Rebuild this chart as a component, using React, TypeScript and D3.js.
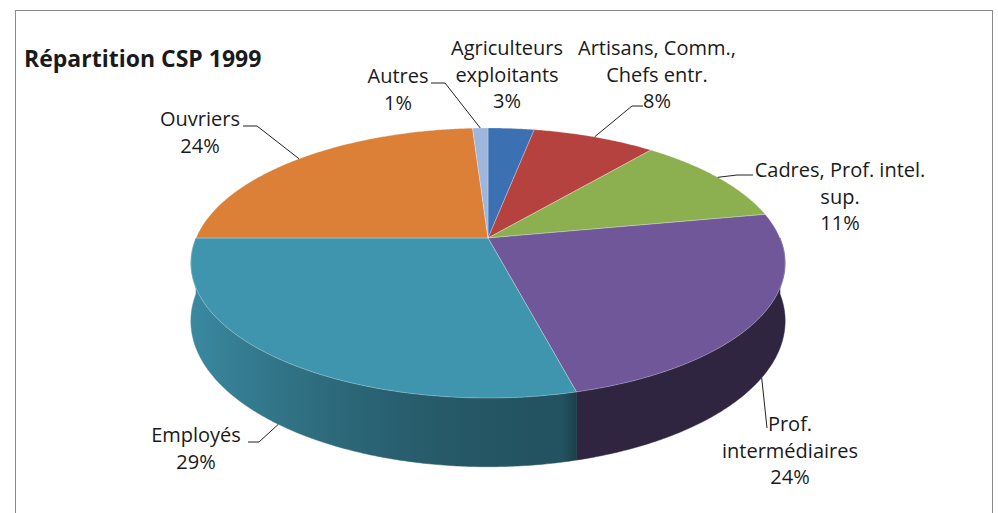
import React from 'react';
import * as d3 from 'd3';

const title = 'Répartition CSP 1999';
const categories = [
  'Agriculteurs exploitants',
  'Artisans, Comm., Chefs entr.',
  'Cadres, Prof. intel. sup.',
  'Prof. intermédiaires',
  'Employés',
  'Ouvriers',
  'Autres',
];
const values = [3, 8, 11, 24, 29, 24, 1];
const labelLines = [
  ['Agriculteurs', 'exploitants'],
  ['Artisans, Comm.,', 'Chefs entr.'],
  ['Cadres, Prof. intel.', 'sup.'],
  ['Prof.', 'intermédiaires'],
  ['Employés'],
  ['Ouvriers'],
  ['Autres'],
];
const colors = ['#3B70B2', '#B5423F', '#8CB050', '#70579A', '#3F95AE', '#DC8038', '#9EB5DC'];

// layout of labels: centre x, first baseline, leader tail points (label side)
const labelLayout: { cx: number; y0: number; tail: [number, number][] | null }[] = [
  { cx: 507, y0: 55, tail: null },
  { cx: 657, y0: 55, tail: [[643, 106], [632, 106]] },
  { cx: 840, y0: 177, tail: [[753, 175], [737, 175]] },
  { cx: 790, y0: 431, tail: [[767, 428]] },
  { cx: 196, y0: 442, tail: [[248, 442], [259, 442]] },
  { cx: 200, y0: 126, tail: [[243, 126], [257, 126]] },
  { cx: 398, y0: 83, tail: [[431, 83], [445, 83]] },
];

const W = 998;
const Hh = 513;
const CX = 488, CY = 238, SX = 292, SY = 130.4, K = 0.185, DEPTH = 56;
const LINE_H = 26.5;

function proj(a: number, z = 0): [number, number] {
  const x = Math.sin(a);
  const y = -Math.cos(a);
  const w = 1 - K * y;
  return [CX + (SX * x) / w, CY + (SY * y + z * DEPTH) / w];
}

function arcPts(a0: number, a1: number, z = 0): [number, number][] {
  const n = Math.max(2, Math.ceil((a1 - a0) / (Math.PI / 360)) + 1);
  const pts: [number, number][] = [];
  for (let i = 0; i < n; i++) pts.push(proj(a0 + ((a1 - a0) * i) / (n - 1), z));
  return pts;
}

function shade(nx: number) {
  if (nx > 0.3) return 0.42;
  return 0.577 - 0.154 * nx + 0.189 * nx * nx;
}

export default function App() {
  const total = d3.sum(values);
  const pie = d3.pie<number>().sort(null).value((d) => d).startAngle(0).endAngle(2 * Math.PI);
  const arcs = pie(values);
  const line = d3.line<[number, number]>().x((d) => d[0]).y((d) => d[1]);
  const font = "'Open Sans', sans-serif";

  const sides: JSX.Element[] = [];
  const grads: JSX.Element[] = [];
  arcs.forEach((a, i) => {
    const s = Math.max(a.startAngle, Math.PI / 2);
    const e = Math.min(a.endAngle, (3 * Math.PI) / 2);
    if (e <= s) return;
    const top = arcPts(s, e, 0);
    const bot = arcPts(s, e, 1).reverse();
    const d = line([...top, ...bot]) + 'Z';
    const base = d3.rgb(colors[i]);
    const stops = d3.range(0, 1.0001, 0.025).map((t) => {
      const f = shade(2 * t - 1);
      const c = d3.rgb(base.r * f, base.g * f, base.b * f);
      return <stop key={t} offset={t} stopColor={c.formatHex()} />;
    });
    grads.push(
      <linearGradient key={i} id={`side-${i}`} gradientUnits="userSpaceOnUse" x1={CX - 297} x2={CX + 297} y1={0} y2={0}>
        {stops}
      </linearGradient>
    );
    sides.push(<path key={i} d={d} fill={`url(#side-${i})`} stroke={`url(#side-${i})`} strokeWidth={0.5} />);
  });

  const tops = arcs.map((a, i) => {
    const pts: [number, number][] = [[CX, CY], ...arcPts(a.startAngle, a.endAngle, 0)];
    return (
      <path key={i} d={line(pts) + 'Z'} fill={colors[i]} stroke="#ffffff" strokeOpacity={0.35} strokeWidth={0.8} strokeLinejoin="round" />
    );
  });

  const labels = arcs.map((a, i) => {
    const lay = labelLayout[i];
    const pct = `${Math.round((values[i] / total) * 100)}%`;
    const lines = [...labelLines[i], pct];
    const mid = (a.startAngle + a.endAngle) / 2;
    const front = mid > Math.PI / 2 && mid < (3 * Math.PI) / 2;
    const anchor = proj(mid, front ? 1 : 0);
    return (
      <g key={i}>
        {lay.tail && (
          <path d={line([...lay.tail, anchor]) as string} fill="none" stroke="#222" strokeWidth={1} />
        )}
        {lines.map((t, j) => (
          <text key={j} x={lay.cx} y={lay.y0 + j * LINE_H} textAnchor="middle" fontFamily={font} fontSize={20} fill="#1a1a1a">
            {t}
          </text>
        ))}
      </g>
    );
  });

  return (
    <svg width={W} height={Hh} style={{ position: 'absolute', left: 0, top: 0, background: '#fff' }}>
      <defs>{grads}</defs>
      <rect x={15.5} y={10.5} width={977} height={520} fill="#fff" stroke="#8a8a8a" strokeWidth={1} />
      <text x={24} y={67} fontFamily={font} fontWeight="bold" fontSize={23} fill="#1a1a1a">
        {title}
      </text>
      <g>{sides}</g>
      <g>{tops}</g>
      <g>{labels}</g>
    </svg>
  );
}
